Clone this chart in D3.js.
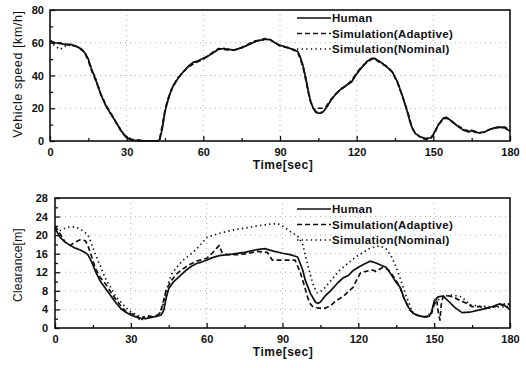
<!DOCTYPE html>
<html>
<head>
<meta charset="utf-8">
<script src="https://cdn.jsdelivr.net/npm/d3@7"></script>
<style>
  body { margin: 0; background: #fff; }
  svg { display: block; font-family: "Liberation Sans", Arial, sans-serif; }
</style>
</head>
<body>
<svg width="526" height="368"></svg>
<script>
// ---- data ([time sec, value]) ----
const timeTicks = [0, 30, 60, 90, 120, 150, 180];
const speedTicks = [0, 20, 40, 60, 80];
const clearanceTicks = [0, 4, 8, 12, 16, 20, 24, 28];
const seriesNames = ["Human", "Simulation(Adaptive)", "Simulation(Nominal)"];

const speedHuman = [[0,61],[2,60],[4,59.5],[6,59],[8,59],[10,58],[12,56.5],[13,55],[14,53],[15,50],[16,45],[18,37],[20,28],[22,21],[24,16],[26,11],[28,6],[30,2],[32,0.5],[35,0],[38,0],[40,0],[42,0],[43,1],[44,8],[45,18],[46,24],[47,29],[48,33],[50,38],[52,42],[54,45.5],[56,48],[58,49],[60,50.5],[62,52],[64,54],[66,56],[68,56.5],[70,56],[72,55.5],[75,57],[78,59],[80,60.5],[82,61.5],[84,62],[86,62],[88,60],[90,58.5],[92,57.5],[94,56.5],[96,55.5],[97,54.5],[98,51],[99,46],[100,39],[101,31],[102,24],[103,20],[104,17.5],[105,17],[106,17],[107,18],[108,20],[110,25],[112,29],[114,32],[116,34],[118,36],[120,41],[122,45],[124,48.5],[126,50.5],[127,50.5],[128,49.5],[130,47.5],[132,45],[134,42],[136,36],[138,27],[140,17],[141,11],[142,7],[143,4.5],[145,2.5],[147,1.5],[149,2],[150,4],[151,7],[152,10],[154,14],[155,14.5],[156,13.5],[158,11],[160,8.5],[162,6.5],[164,5.5],[165,6.5],[166,5.5],[168,5],[170,5.5],[172,7],[174,8],[176,8.5],[178,8],[180,6]];
const speedAdaptive = [[0,61.5],[2,59.5],[4,60],[6,59],[8,58.5],[10,58],[12,56],[13,55],[14,52.5],[15,49],[16,44],[18,36.5],[20,28],[22,21.5],[24,16.5],[26,11],[28,5.5],[30,2],[32,1],[35,0.5],[38,0],[40,0],[42,0],[43,2],[44,10],[45,19],[46,25],[47,29.5],[48,33],[50,38.5],[52,42],[54,45],[56,47],[58,48.5],[60,50],[62,52],[64,54.5],[66,56.5],[68,56],[70,55.5],[72,55.5],[75,57],[78,59.5],[80,61],[82,61.5],[84,62.5],[86,62],[88,60],[90,58],[92,57.5],[94,56.5],[96,55],[97,54],[98,50],[99,45],[100,38],[101,30],[102,24],[103,20],[104,18.5],[105,20],[106,20],[107,20],[108,21],[110,25.5],[112,29],[114,31.5],[116,34],[118,37],[120,41.5],[122,45.5],[124,48],[126,50],[127,50.5],[128,49],[130,47],[132,45.5],[134,42],[136,35.5],[138,27],[140,17.5],[141,12],[142,7],[143,5],[145,2],[147,1],[149,1.5],[150,3.5],[151,6.5],[152,10],[154,13.5],[155,14],[156,13.5],[158,11],[160,9],[162,7],[164,6],[165,6.5],[166,6],[168,5],[170,5.5],[172,7],[174,8],[176,8.5],[178,8.5],[180,6.5]];
const speedNominal = [[0,61],[2,58],[4,56],[6,58],[8,58.5],[10,58],[12,56.5],[13,55],[14,53],[15,49.5],[16,45],[18,37.5],[20,28.5],[22,21],[24,16],[26,11],[28,6],[30,2.5],[32,1],[35,0],[38,0],[40,0],[42,0],[43,1.5],[44,9],[45,18.5],[46,24],[47,29],[48,33.5],[50,38.5],[52,42],[54,45],[56,47.5],[58,49],[60,50],[62,52],[64,54],[66,56],[68,56.5],[70,56],[72,55.5],[75,57],[78,59],[80,60.5],[82,61.5],[84,62],[86,62],[88,60],[90,58.5],[92,57.5],[94,56.5],[96,55.5],[97,54.5],[98,51],[99,46],[100,39],[101,31],[102,24],[103,20],[104,18],[105,17.5],[106,17.5],[107,18.5],[108,20],[110,25],[112,29],[114,32],[116,34],[118,36.5],[120,41],[122,45],[124,48.5],[126,50.5],[127,50.5],[128,49.5],[130,47.5],[132,45],[134,42],[136,36],[138,27],[140,17],[141,11],[142,7],[143,4.5],[145,2.5],[147,1.5],[149,2],[150,4],[151,7],[152,10],[154,14],[155,14.5],[156,13.5],[158,11],[160,8.5],[162,6.5],[164,5.5],[165,6.5],[166,5.5],[168,5],[170,5.5],[172,7],[174,8],[176,8.5],[178,8],[180,6]];

const clearanceHuman = [[0,21.5],[2,19.5],[4,18.5],[6,17.8],[8,17.2],[10,16.8],[12,16.2],[13,15.8],[14,14.8],[15,13.6],[16,12.2],[18,10],[20,8.5],[22,7],[24,5.5],[26,4.2],[28,3.4],[30,2.8],[32,2.4],[34,2.1],[36,2],[38,2.3],[40,2.5],[42,2.8],[43,3.8],[44,6.5],[45,8.5],[47,10],[50,11.5],[52,12.5],[54,13.3],[56,13.9],[58,14.2],[60,14.6],[62,15.1],[65,15.6],[70,15.9],[75,16.3],[80,16.9],[83,17.1],[86,16.6],[90,16.1],[93,15.8],[96,15.3],[98,12.5],[99,10.3],[101,7.5],[103,5.6],[104,5.3],[105,5.6],[107,7],[109,8],[112,9.8],[114,10.8],[116,11.3],[118,12.4],[120,13.1],[122,13.7],[124.6,14.4],[127,14],[129,13.5],[131,13.1],[133,11.5],[135,9.8],[136.5,8.8],[138,6.5],[140,4.3],[141.6,3.2],[144,2.6],[146,2.4],[148,2.5],[149,3.5],[150,5.8],[151.5,6.7],[153.5,6.9],[156,5.6],[158,4.5],[161,3.3],[164,3.4],[168,3.9],[172,4.4],[176,5.2],[178,4.8],[180,3.9]];
const clearanceAdaptive = [[0,22],[2,20.3],[4,18.5],[6,17.8],[8,18.5],[10,19],[12,18.8],[13,17.8],[14,16.2],[15,14.5],[16,12.8],[18,10.8],[20,9.5],[22,7.8],[24,6.2],[26,4.8],[28,3.6],[30,3.1],[32,2.8],[34,1.5],[35,2.3],[37,2.6],[39,2.4],[41,2.9],[42,4],[43,6],[44,8.2],[46,10.2],[48,11.6],[50,12.5],[53,13.6],[56,14.4],[60,15],[62,16],[64,17.2],[65,17.8],[66,16.3],[68,15.8],[72,15.8],[76,16],[80,16.5],[84,16.3],[86,14.6],[90,14.6],[95,14.6],[97,12],[98,10.3],[100,6.5],[101,5.2],[102,4.6],[104,4.3],[107,4.3],[109,4.8],[111,5.8],[114,6.8],[116,7.8],[118,8.8],[119.5,10.5],[121,12],[123,12.2],[125.5,12.5],[127,12.2],[129.7,13.1],[132,12.5],[134,11],[136.5,8.8],[138,6.5],[140.3,3.9],[143,2.8],[146.8,2.4],[149,3.2],[150,5],[151,6],[151.6,3.5],[152.3,1.7],[152.8,5],[153.5,6.7],[155,7],[157.5,6.7],[160,6],[162.5,5.4],[165,4.6],[168,4.6],[171,4.3],[174,4.6],[177,5],[179,5.4],[180,4.8]];
const clearanceNominal = [[0,21],[2,21],[4,21.5],[6,21.8],[8,21.8],[10,21.3],[12,20.5],[13,20],[14,18.8],[16,15.8],[18,13.3],[20,10.6],[22,8.8],[24,6.8],[26,5.6],[28,4.4],[30,3.5],[33,2.6],[36,2.2],[40,2.5],[42,3.5],[43,5.5],[44,8],[45.9,11.4],[48,13],[50.6,14.6],[53,15.6],[56,17],[60,19.5],[65,20.4],[70.4,21.1],[75,21.5],[80,22],[85.4,22.4],[88,22.5],[90,22],[93,20.8],[96,19.8],[98,18],[100,13.5],[102,9.5],[103.6,7.6],[105,7.8],[107,8.8],[110,10.8],[112.7,12.5],[116,14],[119,15.3],[122,16.3],[124.6,17.2],[128.6,17.7],[131,17],[133,15.5],[135,13.1],[137,10],[139,6.7],[141.6,3.2],[144,2.6],[147,2.4],[149,3.5],[150,5.4],[152,6.2],[154,6.8],[156,7.1],[158,7],[161,6.7],[164,5],[168,4.7],[172,4.6],[176,4.5],[180,4.6]];

// line styles for the three series
const dashes = [null, "5,3", "1.4,3.2"];
const widths = [1.7, 1.7, 1.7];

const svg = d3.select("svg");

function drawPanel(cfg) {
  const x = d3.scaleLinear().domain([0, 180]).range([cfg.left, cfg.right]);
  const y = d3.scaleLinear().domain([0, cfg.yMax]).range([cfg.bottom, cfg.top]);
  const g = svg.append("g");

  // dotted grid
  g.selectAll(".gx").data(timeTicks.slice(1, -1)).join("line")
    .attr("x1", d => x(d)).attr("x2", d => x(d))
    .attr("y1", cfg.top).attr("y2", cfg.bottom)
    .attr("stroke", "#9a9a9a").attr("stroke-width", 0.8).attr("stroke-dasharray", "1,4");
  g.selectAll(".gy").data(cfg.yTicks.slice(1, -1)).join("line")
    .attr("x1", cfg.left).attr("x2", cfg.right)
    .attr("y1", d => y(d)).attr("y2", d => y(d))
    .attr("stroke", "#9a9a9a").attr("stroke-width", 0.8).attr("stroke-dasharray", "1,4");

  // series
  const line = d3.line().x(d => x(d[0])).y(d => y(d[1]));
  cfg.series.forEach((s, i) => {
    g.append("path").datum(s)
      .attr("fill", "none").attr("stroke", "#111")
      .attr("stroke-width", widths[i])
      .attr("stroke-dasharray", dashes[i])
      .attr("stroke-linejoin", "round")
      .attr("d", line);
  });

  // frame
  g.append("rect")
    .attr("x", cfg.left).attr("y", cfg.top)
    .attr("width", cfg.right - cfg.left).attr("height", cfg.bottom - cfg.top)
    .attr("fill", "none").attr("stroke", "#111").attr("stroke-width", 1.6);

  // axes with inward ticks
  g.append("g").attr("transform", `translate(0,${cfg.bottom})`)
    .call(d3.axisBottom(x).tickValues(timeTicks).tickSize(-5).tickPadding(7));
  g.append("g").attr("transform", `translate(0,${cfg.bottom})`)
    .call(d3.axisBottom(x).tickValues(d3.range(15, 180, 30)).tickSize(-3).tickFormat(""));
  g.append("g").attr("transform", `translate(${cfg.left},0)`)
    .call(d3.axisLeft(y).tickValues(cfg.yTicks).tickSize(-5).tickPadding(cfg.yPad));
  g.append("g").attr("transform", `translate(${cfg.left},0)`)
    .call(d3.axisLeft(y).tickValues(cfg.yMinor).tickSize(-3).tickFormat(""));
  g.selectAll(".domain").remove();
  g.selectAll(".tick line").attr("stroke", "#111").attr("stroke-width", 1.3);
  g.selectAll(".tick text").attr("fill", "#111")
    .style("font-size", "11px").style("font-weight", "bold");

  // axis titles
  g.append("text")
    .attr("x", 283).attr("y", cfg.bottom + 28)
    .attr("text-anchor", "middle")
    .style("font-size", "12px").style("font-weight", "bold").style("letter-spacing", "0.5px")
    .attr("fill", "#111")
    .text("Time[sec]");
  g.append("text")
    .attr("transform", `translate(22,${cfg.yTitleY}) rotate(-90)`)
    .attr("text-anchor", "middle")
    .style("font-size", cfg.yTitleSize).style("letter-spacing", cfg.yTitleLs)
    .attr("fill", "#111")
    .text(cfg.yTitle);

  // legend
  const leg = g.append("g");
  seriesNames.forEach((name, i) => {
    const ly = cfg.legendY + i * 15.5;
    leg.append("line")
      .attr("x1", 297).attr("x2", 331).attr("y1", ly).attr("y2", ly)
      .attr("stroke", "#111").attr("stroke-width", 1.4)
      .attr("stroke-dasharray", dashes[i]);
    leg.append("text")
      .attr("x", 332).attr("y", ly + 4)
      .style("font-size", "11.5px").style("font-weight", "bold").style("letter-spacing", "0.3px")
      .attr("fill", "#111")
      .text(name);
  });
}

drawPanel({
  left: 50, right: 510, top: 10, bottom: 141,
  yMax: 80, yTicks: speedTicks, yMinor: [10, 30, 50, 70], yPad: 6,
  series: [speedHuman, speedAdaptive, speedNominal],
  yTitle: "Vehicle speed [km/h]", yTitleY: 74, yTitleSize: "12.5px", yTitleLs: "0.6px",
  legendY: 18
});

drawPanel({
  left: 55, right: 510, top: 198, bottom: 328,
  yMax: 28, yTicks: clearanceTicks, yMinor: [2, 6, 10, 14, 18, 22, 26], yPad: 7,
  series: [clearanceHuman, clearanceAdaptive, clearanceNominal],
  yTitle: "Clearance[m]", yTitleY: 265, yTitleSize: "12px", yTitleLs: "0.2px",
  legendY: 209
});
</script>
</body>
</html>
